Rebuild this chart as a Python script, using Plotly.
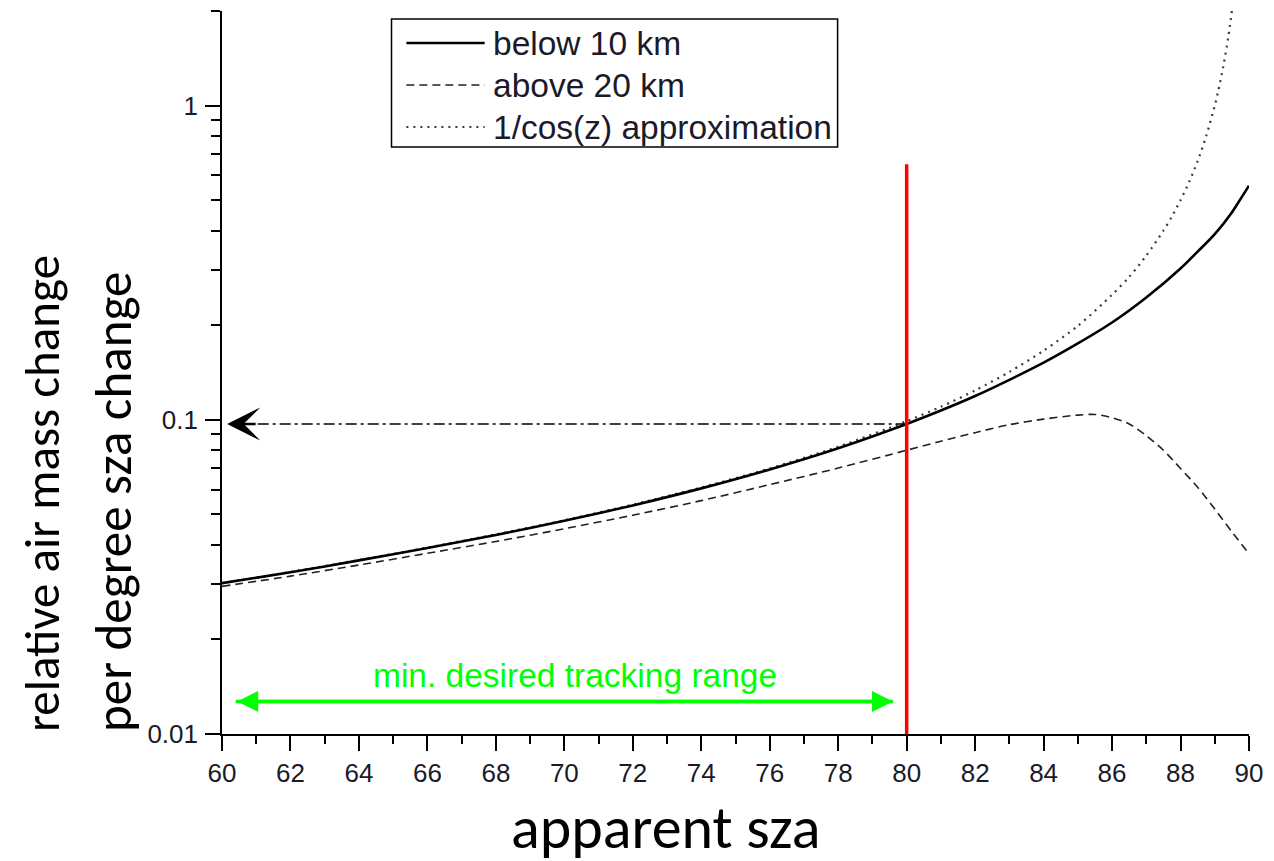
import math
import plotly.graph_objects as go

# ---------------- data ----------------
sza_below = [60, 62, 64, 66, 68, 70, 72, 74, 76, 78, 80, 81, 82, 83, 84, 85, 86, 87, 88, 88.5,
             89, 89.5, 89.75, 90]
val_below = [0.0302, 0.0327, 0.0357, 0.0391, 0.0430, 0.0477, 0.0534, 0.0605, 0.0695, 0.0812, 0.097,
             0.107, 0.119, 0.134, 0.152, 0.175, 0.204, 0.245, 0.303, 0.343, 0.390, 0.457, 0.504,
             0.556]

sza_above = [60, 62, 64, 66, 68, 70, 72, 74, 76, 78, 80, 81, 82, 83, 84, 85, 85.5, 86, 86.5, 87,
             87.5, 88, 88.5, 89, 89.5, 90]
val_above = [0.0295, 0.0318, 0.0345, 0.0376, 0.0410, 0.0450, 0.0497, 0.0553, 0.0622, 0.0702, 0.080,
             0.0855, 0.091, 0.0965, 0.1005, 0.1035, 0.104, 0.1015, 0.097, 0.089, 0.080, 0.070,
             0.061, 0.052, 0.044, 0.0375]

sza_cos = [60, 62, 64, 66, 68, 70, 72, 74, 76, 78, 80, 81, 82, 83, 84, 85, 86, 86.5, 87, 87.5,
           87.75, 88, 88.25, 88.5, 88.75, 89, 89.1, 89.25, 89.4, 89.5]
val_cos = [0.0302, 0.0328, 0.0358, 0.0392, 0.0432, 0.0479, 0.0537, 0.0609, 0.0700, 0.0821, 0.0990,
           0.110, 0.124, 0.142, 0.166, 0.199, 0.250, 0.285, 0.333, 0.400, 0.444, 0.500, 0.571,
           0.666, 0.800, 1.000, 1.111, 1.333, 1.667, 2.0]

series_names = ["below 10 km", "above 20 km", "1/cos(z) approximation"]

marker_sza = [80, 80]            # red vertical marker
marker_val = [0.01, 0.65]
pointer_sza = [80, 60.5]         # dash-dot pointer to the y axis
pointer_val = [0.097, 0.097]
range_sza = [60.4, 79.6]         # min. desired tracking range
range_val = 0.0127
range_label = "min. desired tracking range"

x_ticks = list(range(60, 91, 2))
y_ticks = [0.01, 0.1, 1]
y_ticktext = ["0.01", "0.1", "1"]
y_minor = [m * d for d in (0.01, 0.1) for m in range(2, 10)] + [2]

x_title = "apparent sza"
y_title_lines = ["relative air mass change", "per degree sza change"]

# ---------------- figure ----------------
W, H = 1274, 861
L, R, T, B = 222, 16, 11, 127
pw, ph = W - L - R, H - T - B


def px2paper_x(px):
    return (px - L) / pw


def px2paper_y(py):
    return (H - B - py) / ph


style_below = dict(color="black", width=2.6)
style_above = dict(color="#222222", width=1.6, dash="8px,5px")
style_cos = dict(color="#3a3a3a", width=2.2, dash="2px,5px")

fig = go.Figure()
fig.add_trace(go.Scatter(x=sza_cos, y=val_cos, mode="lines", name=series_names[2],
                         line=dict(**style_cos, shape="spline", smoothing=0.8), showlegend=False))
fig.add_trace(go.Scatter(x=sza_above, y=val_above, mode="lines", name=series_names[1],
                         line=dict(**style_above, shape="spline", smoothing=0.8), showlegend=False))
fig.add_trace(go.Scatter(x=sza_below, y=val_below, mode="lines", name=series_names[0],
                         line=dict(**style_below, shape="spline", smoothing=0.8), showlegend=False))
fig.add_trace(go.Scatter(x=pointer_sza, y=pointer_val, mode="lines", showlegend=False,
                         line=dict(color="black", width=1.6, dash="11px,4px,3px,4px")))
fig.add_trace(go.Scatter(x=marker_sza, y=marker_val, mode="lines", showlegend=False,
                         line=dict(color="#ff0000", width=3.5), cliponaxis=False))
fig.add_trace(go.Scatter(x=range_sza, y=[range_val, range_val], mode="lines", showlegend=False,
                         line=dict(color="#00ff00", width=3.5)))

annotations = []
# arrow head of the dash-dot pointer
annotations.append(dict(x=60.15, y=math.log10(pointer_val[0]), xref="x", yref="y",
                        ax=30, ay=0, showarrow=True, arrowhead=3, arrowsize=2.3,
                        arrowwidth=2.4, arrowcolor="black", text="", font=dict(size=1)))
# green double arrow heads
annotations.append(dict(x=range_sza[1], y=math.log10(range_val), xref="x", yref="y",
                        ax=range_sza[0], ay=math.log10(range_val), axref="x", ayref="y",
                        showarrow=True, arrowhead=2, arrowside="end+start", arrowsize=1.2,
                        arrowwidth=3.5, arrowcolor="#00ff00", text="", font=dict(size=1)))
annotations.append(dict(x=70.3, y=math.log10(0.0153), xref="x", yref="y", showarrow=False,
                        text=range_label, font=dict(family="Liberation Sans, Arial", size=33.5,
                                                     color="#00ff00")))
# axis titles
big_font = "Carlito, Calibri, Lato, sans-serif"
annotations.append(dict(x=px2paper_x(40), y=px2paper_y(734), xref="paper", yref="paper",
                        xanchor="center", yanchor="bottom", textangle=-90, showarrow=False,
                        text=y_title_lines[0], font=dict(family=big_font, size=49, color="black")))
annotations.append(dict(x=px2paper_x(112), y=px2paper_y(734), xref="paper", yref="paper",
                        xanchor="center", yanchor="bottom", textangle=-90, showarrow=False,
                        text=y_title_lines[1], font=dict(family=big_font, size=51, color="black")))
annotations.append(dict(x=px2paper_x(670), y=px2paper_y(827), xref="paper", yref="paper",
                        xanchor="center", yanchor="middle", showarrow=False,
                        text=x_title, font=dict(family=big_font, size=60, color="black")))

# custom legend
shapes = [dict(type="rect", xref="paper", yref="paper",
               x0=px2paper_x(393), x1=px2paper_x(843), y0=px2paper_y(147), y1=px2paper_y(19),
               line=dict(color="black", width=1.5), fillcolor="white", layer="above")]
leg_rows = [43, 85, 127]
for row, st, nm in zip(leg_rows, [style_below, style_above, style_cos], series_names):
    shapes.append(dict(type="line", xref="paper", yref="paper",
                       x0=px2paper_x(408), x1=px2paper_x(487),
                       y0=px2paper_y(row), y1=px2paper_y(row), line=st, layer="above"))
    annotations.append(dict(x=px2paper_x(493), y=px2paper_y(row + 1), xref="paper", yref="paper",
                            xanchor="left", yanchor="middle", showarrow=False, text=nm,
                            font=dict(family="Liberation Sans, Arial", size=33.5,
                                      color="#1a1a2a")))

tick_font = dict(family="Liberation Sans, Arial", size=26, color="#1a1a2a")

fig.update_layout(
    width=W, height=H,
    margin=dict(l=L, r=R, t=T, b=B, pad=0),
    paper_bgcolor="white", plot_bgcolor="white",
    showlegend=False,
    annotations=annotations,
    shapes=shapes,
    xaxis=dict(range=[60, 90], tickmode="array", tickvals=x_ticks, ticks="outside",
               ticklen=15, tickwidth=1.6, tickcolor="black", showline=True, linecolor="black",
               linewidth=1.6, showgrid=False, zeroline=False, tickfont=tick_font,
               minor=dict(ticks="outside", ticklen=8, tickwidth=1.6, tickcolor="black",
                          dtick=1, tick0=60, showgrid=False)),
    yaxis=dict(type="log", range=[-2, math.log10(2)], tickmode="array", tickvals=y_ticks,
               ticktext=y_ticktext, ticks="outside", ticklen=15, tickwidth=1.6,
               tickcolor="black", showline=True, linecolor="black", linewidth=1.6,
               showgrid=False, zeroline=False, tickfont=tick_font, ticklabelstandoff=2,
               minor=dict(ticks="outside", ticklen=9, tickwidth=1.6, tickcolor="black",
                          tickmode="array", tickvals=y_minor, showgrid=False)),
)

fig.write_html("out.html")
